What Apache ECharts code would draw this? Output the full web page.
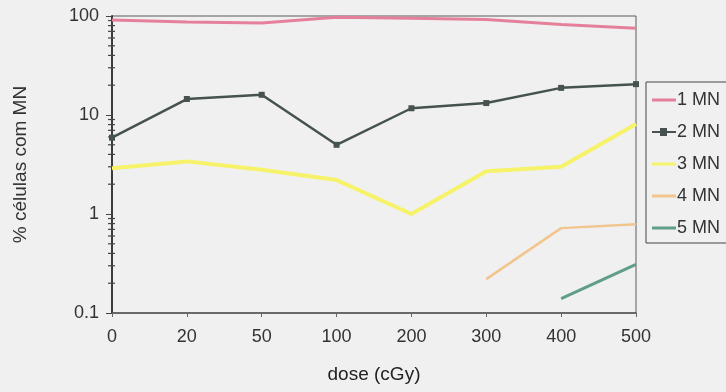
<!DOCTYPE html>
<html>
<head>
<meta charset="utf-8">
<script src="https://cdn.jsdelivr.net/npm/echarts@6/dist/echarts.min.js"></script>
<style>
  html, body { margin: 0; padding: 0; background: #f0f0f0; }
  #chart { width: 726px; height: 392px; }
</style>
</head>
<body>
<div id="chart"></div>
<script>
// Dose levels (cGy) on the category axis
const doses = ['0', '20', '50', '100', '200', '300', '400', '500'];

// Percentage of cells with 1..5 micronuclei at each dose
const mn1 = [91, 87, 85, 97, 95, 92, 82, 75];
const mn2 = [5.9, 14.5, 16, 5.0, 11.7, 13.2, 18.8, 20.5];
const mn3 = [2.9, 3.4, 2.8, 2.2, 1.0, 2.7, 3.0, 8.1];
const mn4 = [null, null, null, null, null, 0.22, 0.72, 0.79];
const mn5 = [null, null, null, null, null, null, 0.14, 0.31];

// Logarithmic minor tick values between the decades
const minorTickValues = [0.2, 0.3, 0.4, 0.5, 0.6, 0.7, 0.8, 0.9,
  2, 3, 4, 5, 6, 7, 8, 9,
  20, 30, 40, 50, 60, 70, 80, 90];

const seriesNames = ['1 MN', '2 MN', '3 MN', '4 MN', '5 MN'];
const colors = ['#e5809a', '#46524f', '#f6f36a', '#f2c58e', '#5f9e8a'];
const font = 'Liberation Sans, Arial, sans-serif';

// legend keys: a plain stroke, the 2 MN key also carries its square marker
const lineIcon = 'path://M0,0 L24,0 L24,3 L0,3 Z';
const markedIcon = 'path://M0,3 L24,3 L24,5 L0,5 Z M8,0 L15,0 L15,8 L8,8 Z';

const chart = echarts.init(document.getElementById('chart'));
chart.setOption({
  backgroundColor: '#f0f0f0',
  animation: false,
  grid: {
    left: 112, right: 90, top: 16, bottom: 79,
    show: true, borderColor: '#5a5a5a', borderWidth: 1, backgroundColor: 'transparent'
  },
  legend: {
    data: seriesNames.map((n, i) => ({
      name: n,
      icon: i === 1 ? markedIcon : lineIcon,
      itemStyle: { color: colors[i] }
    })),
    orient: 'vertical',
    left: 646, top: 82,
    padding: [9, 14, 6, 6],
    itemWidth: 24, itemHeight: 12, itemGap: 14,
    borderColor: '#444', borderWidth: 1,
    textStyle: { fontFamily: font, fontSize: 18, color: '#333', padding: [0, 0, 0, -4] }
  },
  xAxis: {
    type: 'category',
    data: doses,
    boundaryGap: false,
    name: 'dose (cGy)',
    nameLocation: 'middle',
    nameGap: 52,
    nameTextStyle: { fontFamily: font, fontSize: 19, color: '#222' },
    axisLine: { lineStyle: { color: '#555', width: 1.5 } },
    axisTick: { alignWithLabel: true, length: 4, lineStyle: { color: '#666' } },
    axisLabel: { fontFamily: font, fontSize: 18, color: '#333', margin: 15 },
    splitLine: { show: false }
  },
  yAxis: {
    type: 'log',
    logBase: 10,
    min: 0.1, max: 100,
    name: '% células com MN',
    nameLocation: 'middle',
    nameGap: 82,
    nameTextStyle: { fontFamily: font, fontSize: 19, color: '#333' },
    axisLine: { show: true, lineStyle: { color: '#3c3c3c', width: 2 } },
    axisTick: { show: true, length: 6, lineStyle: { color: '#444' } },
    axisLabel: {
      fontFamily: font, fontSize: 18, color: '#333', margin: 13,
      formatter: v => String(v)
    },
    splitLine: { show: false }
  },
  series: [
    {
      name: '1 MN', type: 'line', data: mn1,
      symbol: 'none',
      lineStyle: { color: colors[0], width: 3 },
      itemStyle: { color: colors[0] }
    },
    {
      name: '2 MN', type: 'line', data: mn2,
      symbol: 'rect', symbolSize: 6,
      lineStyle: { color: colors[1], width: 2.5 },
      itemStyle: { color: colors[1] }
    },
    {
      name: '3 MN', type: 'line', data: mn3,
      symbol: 'none',
      lineStyle: { color: colors[2], width: 4 },
      itemStyle: { color: colors[2] }
    },
    {
      name: '4 MN', type: 'line', data: mn4,
      symbol: 'none',
      lineStyle: { color: colors[3], width: 2.5 },
      itemStyle: { color: colors[3] }
    },
    {
      name: '5 MN', type: 'line', data: mn5,
      symbol: 'none',
      lineStyle: { color: colors[4], width: 3 },
      itemStyle: { color: colors[4] }
    },
    {
      // minor ticks on the log axis, placed through the axis scales
      name: 'minorTicks', type: 'custom', silent: true,
      data: minorTickValues.map(v => [0, v]),
      renderItem: function (params, api) {
        const p = api.coord([api.value(0), api.value(1)]);
        return {
          type: 'line',
          shape: { x1: p[0] - 4, y1: p[1], x2: p[0] + 3, y2: p[1] },
          style: { stroke: '#444', lineWidth: 1.2 }
        };
      }
    }
  ]
});
</script>
</body>
</html>
